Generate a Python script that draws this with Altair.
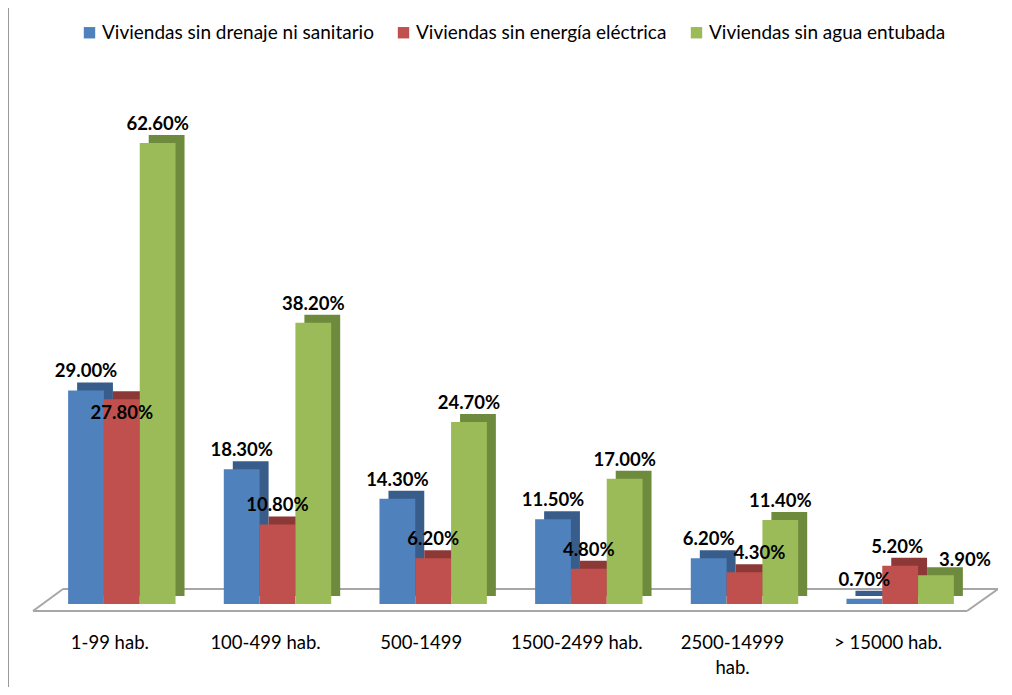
import altair as alt
import pandas as pd

categories = ["1-99 hab.", "100-499 hab.", "500-1499", "1500-2499 hab.", "2500-14999 hab.", "> 15000 hab."]
series = ["Viviendas sin drenaje ni sanitario", "Viviendas sin energía eléctrica", "Viviendas sin agua entubada"]
drenaje = [29.0, 18.3, 14.3, 11.5, 6.2, 0.7]
energia = [27.8, 10.8, 6.2, 4.8, 4.3, 5.2]
agua = [62.6, 38.2, 24.7, 17.0, 11.4, 3.9]

front_colors = ["#4F81BD", "#C0504D", "#9BBB59"]
side_colors = ["#385D8A", "#8C3836", "#6E8A3C"]
FONT = "Lato"

rows = []
for s, vals in zip(series, [drenaje, energia, agua]):
    for c, v in zip(categories, vals):
        rows.append({"cat": c, "series": s, "value": v, "label": f"{v:.2f}%"})
df = pd.DataFrame(rows)

x_enc = alt.X(
    "cat:N", sort=categories,
    scale=alt.Scale(domain=categories, paddingInner=0.31, paddingOuter=0.155),
    axis=alt.Axis(title=None, labelAngle=0, domain=False, ticks=False, grid=False,
                  labelFontSize=18.5, labelPadding=29, labelColor="#000000", labelFont=FONT,
                  labelLineHeight=25, labelBaseline="top", labelOffset=-12,
                  labelExpr="datum.label == '2500-14999 hab.' ? ['2500-14999', 'hab.'] : datum.label"),
)
y_enc = alt.Y("value:Q", scale=alt.Scale(domain=[0, 71.15], nice=False, zero=True), axis=None)
xo_front = alt.XOffset("series:N", sort=series, scale=alt.Scale(domain=series))
xo_side = alt.XOffset("series:N", sort=series, scale=alt.Scale(domain=series, range=[9, 116.4]))

base = alt.Chart(df)

side = base.mark_bar(yOffset=-8).encode(
    x=x_enc, y=y_enc, xOffset=xo_side,
    color=alt.Color("series:N", scale=alt.Scale(domain=series, range=side_colors), legend=None),
)
front = base.mark_bar().encode(
    x=x_enc, y=y_enc, xOffset=xo_front,
    color=alt.Color("series:N", scale=alt.Scale(domain=series, range=front_colors),
                    legend=alt.Legend(title=None)),
)

# label placement nudges (dx, dy) for labels that the original moves to avoid collisions
nudges = {
    (series[1], categories[0]): (0, 14),
    (series[1], categories[4]): (15, -19),
    (series[1], categories[5]): (-3, -19),
    (series[2], categories[5]): (29, -15),
}


def cond(s, c):
    return f"(datum.series == '{s}' && datum.cat == '{c}')"


default_filter = "!(" + " || ".join(cond(s, c) for (s, c) in nudges) + ")"
text_layers = [
    base.transform_filter(default_filter).mark_text(
        fontWeight="bold", fontSize=18.5, font=FONT, dy=-19, color="#000000").encode(
        x=x_enc, y=y_enc, xOffset=xo_front, text="label:N")
]
for (s, c), (ddx, ddy) in nudges.items():
    text_layers.append(
        base.transform_filter(cond(s, c)).mark_text(
            fontWeight="bold", fontSize=18.5, font=FONT, dx=ddx, dy=ddy, color="#000000").encode(
            x=x_enc, y=y_enc, xOffset=xo_front, text="label:N")
    )

one = alt.Data(values=[{"k": 0}])
floor_col = "#A6A6A6"
floor_back = alt.Chart(one).mark_rule(color=floor_col, strokeWidth=2).encode(
    x=alt.value(19), x2=alt.value(954), y=alt.value(509))
floor_front = alt.Chart(one).mark_rule(color=floor_col, strokeWidth=2).encode(
    x=alt.value(-11), x2=alt.value(923), y=alt.value(531))
floor_left = alt.Chart(one).mark_rule(color=floor_col, strokeWidth=2).encode(
    x=alt.value(-11), x2=alt.value(19), y=alt.value(531), y2=alt.value(509))
floor_right = alt.Chart(one).mark_rule(color=floor_col, strokeWidth=2).encode(
    x=alt.value(923), x2=alt.value(954), y=alt.value(531), y2=alt.value(509))
border = alt.Chart(one).mark_rule(color="#999999", strokeWidth=1).encode(
    x=alt.value(-35.5), y=alt.value(-72), y2=alt.value(607))

chart = alt.layer(
    border, floor_back, floor_left, floor_right, floor_front, side, front, *text_layers
).resolve_scale(color="independent", xOffset="independent").properties(
    width=934, height=524,
    padding={"left": 36, "top": 72, "right": 20, "bottom": 83},
    autosize="none",
).configure_view(strokeWidth=0).configure_legend(
    orient="none", legendX=36, legendY=-57, direction="horizontal",
    symbolType="square", symbolSize=130, symbolStrokeWidth=0,
    labelFontSize=19, labelFont=FONT, labelColor="#000000", labelLimit=0,
    columnPadding=20, labelOffset=3,
)

chart.save("out.html", embed_options={"renderer": "svg", "actions": False})
